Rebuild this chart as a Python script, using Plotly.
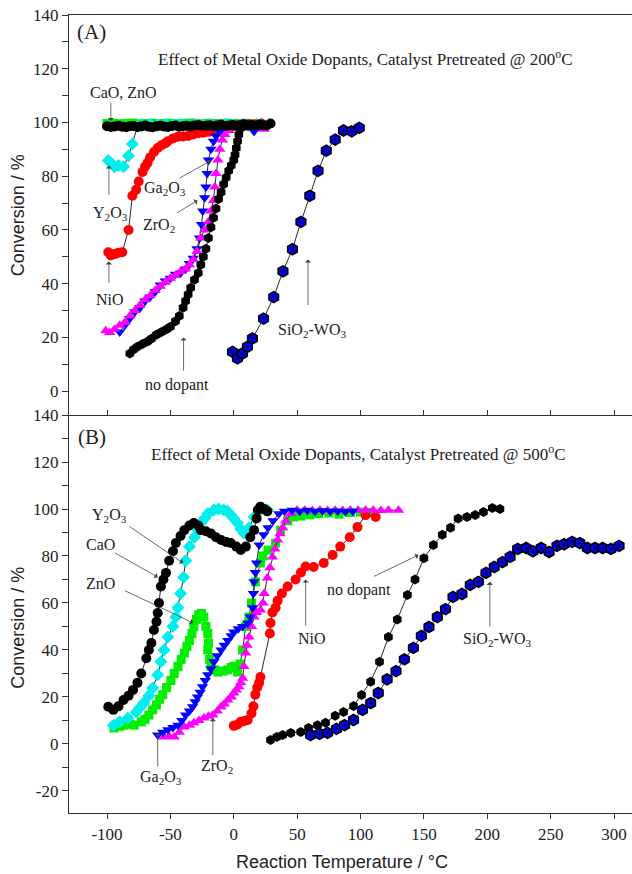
import plotly.graph_objects as go

# ---------------- Panel A (pretreated @ 200 C) : (T, conversion) ----------------
A_ZnO = [(-100,99.6),(-95,99.7),(-90,99.5),(-85,99.6),(-80,99.8),(-75,99.5),(-70,99.6),(-65,99.7),(-60,99.5),
         (-55,99.6),(-50,99.7),(-45,99.5),(-40,99.6),(-35,99.8),(-30,99.6),(-25,99.5),(-20,99.7),(-15,99.6),
         (-10,99.5),(-5,99.7),(0,99.6),(5,99.5),(10,99.7),(15,99.6),(20,99.5)]
A_Y2O3 = [(-99,85.8),(-96,84.5),(-94,83.5),(-91,84),(-87,83.5),(-83,87.6),(-80,92),(-76,98.5),(-72,99),
          (-66,99.2),(-60,99),(-54,99.3),(-48,99.1),(-42,99.2),(-36,99),(-30,99.3),(-24,99.1),(-18,99.2),
          (-12,99),(-6,99.3),(0,99.1),(6,99.2),(12,99),(18,99.3),(22,99.5)]
A_CaO = [(-100,98.6),(-97,98.3),(-94,98.5),(-91,98.8),(-88,98.4),(-85,98.2),(-82,98.6),(-79,98.7),(-76,98.3),
         (-73,98.5),(-70,98.9),(-67,98.4),(-64,98.2),(-61,98.6),(-58,98.8),(-55,98.5),(-52,98.3),(-49,98.7),
         (-46,98.9),(-43,98.4),(-40,98.6),(-37,98.8),(-34,98.5),(-31,98.9),(-28,99.1),(-25,98.7),(-22,98.8),
         (-19,99.0),(-16,98.6),(-13,98.9),(-10,99.2),(-7,98.7),(-4,98.9),(-1,99.1),(2,98.8),(5,99.0),(8,99.3),
         (11,98.9),(14,99.1),(17,98.8),(20,99.2),(23,99.0),(26,98.9),(29,99.6)]
A_NiO = [(-99,51.7),(-97,50.5),(-94,51),(-91,51.5),(-88,51.7),(-83,60),(-80,72.7),(-77,75),(-75,78),(-72,81.6),
         (-70,83.5),(-68,85),(-66,87),(-63,89),(-60,90.5),(-57,91.5),(-54,92.3),(-52,93),(-48,94),(-44,94.7),
         (-40,94.8),(-36,95),(-32,95.5),(-28,96),(-24,96.2),(-20,96.5),(-16,96.8),(-13,97),(-9,97.5),(-5,98),
         (-1,98.5),(3,99),(7,99.2),(12,99.3),(17,99.2),(22,99.5)]
A_Ga2O3 = [(-90,22),(-86,24.5),(-82,27),(-78,29.5),(-74,31),(-70,33.5),(-66,35),(-62,37),(-58,39.5),(-54,41),
           (-50,42),(-46,43.5),(-42,44),(-38,45.5),(-35,47.5),(-32,49.5),(-29,53),(-27,57),(-25.5,62),(-24.5,67),
           (-23,72),(-22,76),(-21,81),(-20,86),(-18,90),(-16,93),(-14,95),(-11,96.5),(-8,97.5),(-4,98.5),
           (0,99),(5,99),(10,98.8),(16,96.6),(20,98.5)]
A_ZrO2 = [(-101,22.5),(-98,21.8),(-94,23),(-90,24.5),(-86,25.5),(-82,28),(-78,30),(-74,32),(-70,34),(-66,35.5),
          (-62,37.5),(-58,39),(-54,40.5),(-50,42),(-46,43),(-42,44.5),(-38,45.5),(-35,47),(-32,49),(-29,52),
          (-26,57),(-23,60),(-20,63),(-18,67),(-16,71),(-15,76),(-14,81),(-12.5,86),(-11,90),(-9,93.5),
          (-7,95.5),(-4,97),(0,98),(5,99),(10,99),(15,99),(20,98.5),(24,97.5)]
A_none = [(-82,14),(-79,15.5),(-76,16.5),(-72,17.5),(-68,18.5),(-65,19.5),(-61,21),(-57,22),(-53,23),(-50,24),
          (-46,26),(-43,28),(-40,31),(-38,33.5),(-36,36),(-34,38.5),(-31,41.5),(-28,44),(-26,47),(-24,50),
          (-22,53),(-20,57),(-18,61),(-16,64.5),(-14,68),(-12,71.5),(-10,74),(-8,77),(-6,79.5),(-4,82),
          (-2,84),(0,86),(1,88),(2,90.5),(3,93),(4,95.5),(6,98),(10,99)]
A_SiW = [(-1,14.6),(2.9,12.2),(6.8,14),(10.8,16.5),(14.7,19.6),(23.5,27),(31.5,35),(38.8,44.6),(46.3,52.8),
         (53,63),(60,72.7),(66.5,82),(73,89.5),(80,93.6),(86.6,97),(93,96.7),(99,98)]

# ---------------- Panel B (pretreated @ 500 C) ----------------
B_ZnO = [(-94.5,6.8),(-90,7.5),(-86.6,8),(-82,8.5),(-78.7,8),(-73,9.4),(-70,10.5),(-67,12.3),(-64,14.5),
         (-61,16.6),(-58.5,19),(-56,21),(-53,24),(-49.6,27),(-47,30),(-44,33),(-41.5,36),(-39,38.7),(-37,41.5),
         (-35,44),(-33,47),(-31.5,50),(-29.5,53),(-27.6,55),(-25.5,55.5),(-23.6,54),(-22,50),(-20.5,47),
         (-20,43),(-20.5,40),(-19,36),(-18,33),(-15,31.5),(-12.6,30.6),(-8.5,31),(-4.7,31.5),(-2,32.5),(0,33),
         (3,30.6),(5,34),(7,40),(9.4,50),(12,54),(14,60),(17,69),(21,77),(23,80),(27,82.5),(33,85.5),(37,91),
         (42.5,95),(47,96.6),(53,97),(60,97.5),(67,98),(75,98.3),(83,97.8),(92,98.5),(100,98.7),(108,98.5)]
B_Y2O3 = [(-95,8),(-90,9.4),(-83.5,11),(-77,13.6),(-74,15.5),(-71,17.4),(-67,20.5),(-64,23.8),(-60,29.4),
          (-57.5,35),(-55,40),(-52,45.5),(-48,50),(-45.7,54),(-44,58),(-42,64),(-39.6,71),(-38,78),(-35,84),
          (-31,88),(-28,91),(-26,94),(-23,96),(-20.5,98),(-15.7,99.6),(-12,100),(-8,99.6),(-5,99),(-2.4,97.5),
          (0,96),(3,94),(5.5,91.5),(8,89.8),(10,90.5),(12,92),(16,96.6),(21,99.6),(26.5,99.6)]
B_CaO = [(-99,15.8),(-95,14.5),(-91,16),(-87,18.7),(-83,20.5),(-79.5,23),(-76,26),(-73,30),(-69,36.5),(-67,40),
         (-65,43),(-63,48.5),(-61,52),(-60,55.7),(-59,60),(-57.5,67),(-55.5,70),(-53.5,72.8),(-51,78),(-48,82),
         (-45.7,85.5),(-42,88.5),(-39,91),(-35,93),(-31.5,94),(-28,93),(-26,91),(-22,90.5),(-18,89.6),(-14,88),
         (-10,86.8),(-6,86),(-2.4,85.5),(2,84),(5.5,82.6),(9.5,84),(13,88),(16,91),(18,96),(19,99.6),(21,101),
         (24,100),(26.5,99)]
B_NiO = [(0,7.7),(3,8.3),(5.5,9.4),(8.5,9.8),(11,10.2),(14,13),(15.5,16),(17,21),(18.5,24),(20,26),(21,28.5),
         (28.5,47),(29,51.5),(30.5,56),(33,58),(34.6,61),(38,64),(42.5,67),(48.8,70),(53,73),(56.7,75.5),
         (63,75.3),(71,77),(78,80.4),(84,84),(91.5,88),(97.6,92.3),(104,97.4),(112,96.6)]
B_Ga2O3 = [(-60,3.8),(-56,5),(-52,6),(-48,7),(-44,8),(-41,10),(-38,12.3),(-35,14),(-32.5,15.8),(-30.5,18),
           (-28.6,20),(-26.5,22),(-24.6,24.3),(-22.5,27),(-20.5,29.4),(-18,32),(-15.7,35),(-13,37.5),(-10,40),
           (-7.5,42),(-4.7,44),(-2,46),(0,47.7),(3.5,49),(7,50),(11,51.5),(13,54),(15,58),(15.5,64),(16,69),
           (17,73),(18,77),(20,84.7),(23.6,89),(27,92),(31,95),(35.6,98),(40,99),(46,99.5),(52,99),(58,99.5),
           (64,99),(70,99.3),(76,99),(82,99.2),(88,98.8),(94,99)]
B_ZrO2 = [(-55,3),(-51,3.2),(-47,3),(-43,5),(-39,7.2),(-35,8),(-31.5,9),(-27.5,10),(-23.6,11),(-20,11.8),
          (-16.5,12.3),(-13,14),(-10,15.8),(-7.5,17),(-4.7,18.7),(-2,20),(0,21.7),(2,23),(4,24.3),(5.5,26),
          (7,28),(8,33),(9.4,38.7),(10.5,42),(12,45.5),(14,50),(16,54),(18,56),(21,57),(23,60),(24,64),
          (26.5,70.6),(28.5,75),(30.5,79.6),(32.5,83),(34.6,86.8),(36.5,89.5),(38.6,92),(41,95),(45,98),
          (50,99.5),(56,99.5),(62,99.3),(68,99.5),(74,99.4),(80,99.5),(86,99.4),(92,99.5),(98,99.5),
          (104,99.5),(110,99.5),(116,99.4),(122,99.5),(130,99.5)]
B_none = [(29,1.7),(34,3),(38.6,3.8),(45,4.7),(52.8,5.1),(59,6.8),(66,8),(72.4,9),(80,12),(86.6,13.6),
          (94.5,16.2),(100.8,20.8),(108,26.5),(115,35),(122,45.5),(129,53),(137,63.4),(143,70),(150,79),
          (157.5,84.7),(164.5,89),(171,92),(177,96),(184,96.6),(190.5,97.4),(197,98.7),(204,100.4),(210,100)]
B_SiW = [(60.6,3.8),(67.7,4.3),(74,4.7),(81,6.4),(87.4,8),(94.5,10.2),(101.6,14.5),(108,17.4),(114,21.7),
         (121,27.5),(128,31),(134.6,36),(141.7,40.9),(148,46),(154,49.8),(160.6,54),(167,57.4),(173,62.6),
         (180,63.8),(186.6,67.7),(193,69),(199,72.8),(205.5,75.3),(212,77.4),(218,79.6),(224,83),(230.7,83.4),
         (236,82),(242.5,83.4),(248.8,81.7),(255,84.3),(260.6,85),(267,86),(273,85.5),(279,83.4),(285,83.4),
         (291,83.4),(297.6,83),(304,84.3)]

X_TICKS = [-100, -50, 0, 50, 100, 150, 200, 250, 300]
X_TICK_TEXT = ["-100", "-50", "0", "50", "100", "150", "200", "250", "300"]
YA_TICKS = [0, 20, 40, 60, 80, 100, 120, 140]
YA_TICK_TEXT = ["0", "20", "40", "60", "80", "100", "120", "140"]
YB_TICKS = [-20, 0, 20, 40, 60, 80, 100, 120, 140]
YB_TICK_TEXT = ["-20", "0", "20", "40", "60", "80", "100", "120", "140"]

STYLE = {
    "ZnO":   dict(symbol="square", color="#00ee00", size=9),
    "Y2O3":  dict(symbol="diamond", color="#00eeee", size=10),
    "CaO":   dict(symbol="circle", color="#000000", size=10),
    "NiO":   dict(symbol="circle", color="#ff0000", size=10),
    "Ga2O3": dict(symbol="triangle-down", color="#0000ff", size=10),
    "ZrO2":  dict(symbol="triangle-up", color="#ff00ff", size=10),
    "none":  dict(symbol="hexagon", color="#000000", size=10),
    "SiW":   dict(symbol="hexagon-dot", color="#0000ee", size=11, line=dict(color="#000000", width=1.6)),
}

fig = go.Figure()

def add(series, key, xa, ya):
    xs = [p[0] for p in series]
    ys = [p[1] for p in series]
    st = dict(STYLE[key])
    line = st.pop("line", dict(width=0))
    fig.add_trace(go.Scatter(x=xs, y=ys, mode="lines+markers", xaxis=xa, yaxis=ya,
                             line=dict(color="#111111", width=0.9),
                             marker=dict(**st, line=line), showlegend=False))

for s, k in [(A_ZnO, "ZnO"), (A_Y2O3, "Y2O3"), (A_NiO, "NiO"), (A_Ga2O3, "Ga2O3"), (A_ZrO2, "ZrO2"),
             (A_none, "none"), (A_CaO, "CaO"), (A_SiW, "SiW")]:
    add(s, k, "x2", "y2")
for s, k in [(B_ZnO, "ZnO"), (B_Y2O3, "Y2O3"), (B_CaO, "CaO"), (B_NiO, "NiO"), (B_ZrO2, "ZrO2"),
             (B_Ga2O3, "Ga2O3"), (B_none, "none"), (B_SiW, "SiW")]:
    add(s, k, "x", "y")

AX = "#333333"
TF = dict(family="Liberation Serif", size=17, color="#222222")
XR = [-130, 314.2]
SPLIT = 0.4987
MINOR = dict(dtick=10, tick0=0, ticks="outside", ticklen=6, tickcolor=AX)

fig.update_layout(
    width=632, height=874, margin=dict(l=69, r=0, t=15, b=61),
    paper_bgcolor="white", plot_bgcolor="white",
    xaxis=dict(domain=[0, 1], anchor="y", range=XR, tickmode="array", tickvals=X_TICKS, ticktext=X_TICK_TEXT,
               ticks="outside", ticklen=5, tickcolor=AX, showline=True, linecolor=AX, linewidth=1.2,
               showgrid=False, zeroline=False, tickfont=TF),
    xaxis2=dict(domain=[0, 1], anchor="y2", range=XR, matches="x", tickmode="array", tickvals=X_TICKS,
                ticks="inside", ticklen=5, tickcolor=AX, showticklabels=False, showline=True, mirror=True,
                linecolor=AX, linewidth=1.2, showgrid=False, zeroline=False),
    yaxis=dict(domain=[0, SPLIT], anchor="x", range=[-29.4, 140], tickmode="array", tickvals=YB_TICKS,
               ticktext=YB_TICK_TEXT, ticks="outside", ticklen=6, tickcolor=AX, minor=MINOR,
               showline=True, linecolor=AX, linewidth=1.2, showgrid=False, zeroline=False, tickfont=TF),
    yaxis2=dict(domain=[SPLIT, 1], anchor="x2", range=[-8.9, 140], tickmode="array", tickvals=YA_TICKS,
                ticktext=YA_TICK_TEXT, ticks="outside", ticklen=6, tickcolor=AX, minor=MINOR,
                showline=True, linecolor=AX, linewidth=1.2, showgrid=False, zeroline=False, tickfont=TF),
)

ann = []

def text(xr, yr, x, y, t, size=16):
    ann.append(dict(xref=xr, yref=yr, x=x, y=y, text=t, showarrow=False,
                    font=dict(family="Liberation Serif", size=size, color="#222222"),
                    xanchor="center", yanchor="middle"))

def arrow(xr, yr, x0, y0, x1, y1):
    ann.append(dict(xref=xr, yref=yr, axref=xr, ayref=yr, x=x1, y=y1, ax=x0, ay=y0, text="",
                    showarrow=True, arrowhead=1, arrowsize=1.3, arrowwidth=0.8, arrowcolor="#444444"))

# Panel A labels
text("x2", "y2", -112, 133.5, "(A)", 21)
text("x2", "y2", 104, 124, "Effect of Metal Oxide Dopants, Catalyst Pretreated @ 200<sup>o</sup>C", 17)
text("x2", "y2", -87, 111, "CaO, ZnO")
arrow("x2", "y2", -97, 108, -97, 100.5)
text("x2", "y2", -97, 66.3, "Y<sub>2</sub>O<sub>3</sub>")
arrow("x2", "y2", -98.5, 72.5, -98.5, 84)
text("x2", "y2", -97.6, 34, "NiO")
arrow("x2", "y2", -98.5, 39.7, -98.5, 48.3)
text("x2", "y2", -54, 75.6, "Ga<sub>2</sub>O<sub>3</sub>")
arrow("x2", "y2", -44, 79, -18, 85.8)
text("x2", "y2", -59, 61.8, "ZrO<sub>2</sub>")
arrow("x2", "y2", -46, 66, -28.6, 71)
text("x2", "y2", -44.5, 2.2, "no dopant")
arrow("x2", "y2", -39.6, 7, -39.6, 20)
text("x2", "y2", 62, 22.7, "SiO<sub>2</sub>-WO<sub>3</sub>")
arrow("x2", "y2", 58.6, 31.5, 58.6, 49)

# Panel B labels
text("x", "y", -112, 130.6, "(B)", 21)
text("x", "y", 98.8, 123.8, "Effect of Metal Oxide Dopants, Catalyst Pretreated @ 500<sup>o</sup>C", 17)
text("x", "y", -98, 97.4, "Y<sub>2</sub>O<sub>3</sub>")
arrow("x", "y", -83.5, 93, -40, 77)
text("x", "y", -105.5, 84.7, "CaO")
arrow("x", "y", -95, 81.7, -60, 71)
text("x", "y", -105.5, 68.5, "ZnO")
arrow("x", "y", -87, 65.5, -32, 51.5)
text("x", "y", -57.5, -14.5, "Ga<sub>2</sub>O<sub>3</sub>")
arrow("x", "y", -60, -10.2, -60, 4.7)
text("x", "y", -13.6, -9.7, "ZrO<sub>2</sub>")
arrow("x", "y", -16.5, -5.5, -16.5, 11)
text("x", "y", 61.4, 45, "NiO")
arrow("x", "y", 56.7, 49.8, 56.7, 70)
text("x", "y", 98.5, 65.5, "no dopant")
arrow("x", "y", 109.4, 71, 145.7, 80.4)
text("x", "y", 208, 44.3, "SiO<sub>2</sub>-WO<sub>3</sub>")
arrow("x", "y", 202, 49.4, 202, 69)

# axis titles
TTF = dict(family="Liberation Sans", size=18, color="#222222")
for yc in (0.749, 0.232):
    ann.append(dict(xref="paper", yref="paper", x=-0.0906, y=yc, text="Conversion / %", textangle=-90,
                    showarrow=False, font=TTF, xanchor="center", yanchor="middle"))
ann.append(dict(xref="paper", yref="paper", x=0.485, y=-0.0614, text="Reaction Temperature / °C",
                showarrow=False, font=TTF, xanchor="center", yanchor="middle"))

fig.update_layout(annotations=ann)
fig.write_html("out.html")
